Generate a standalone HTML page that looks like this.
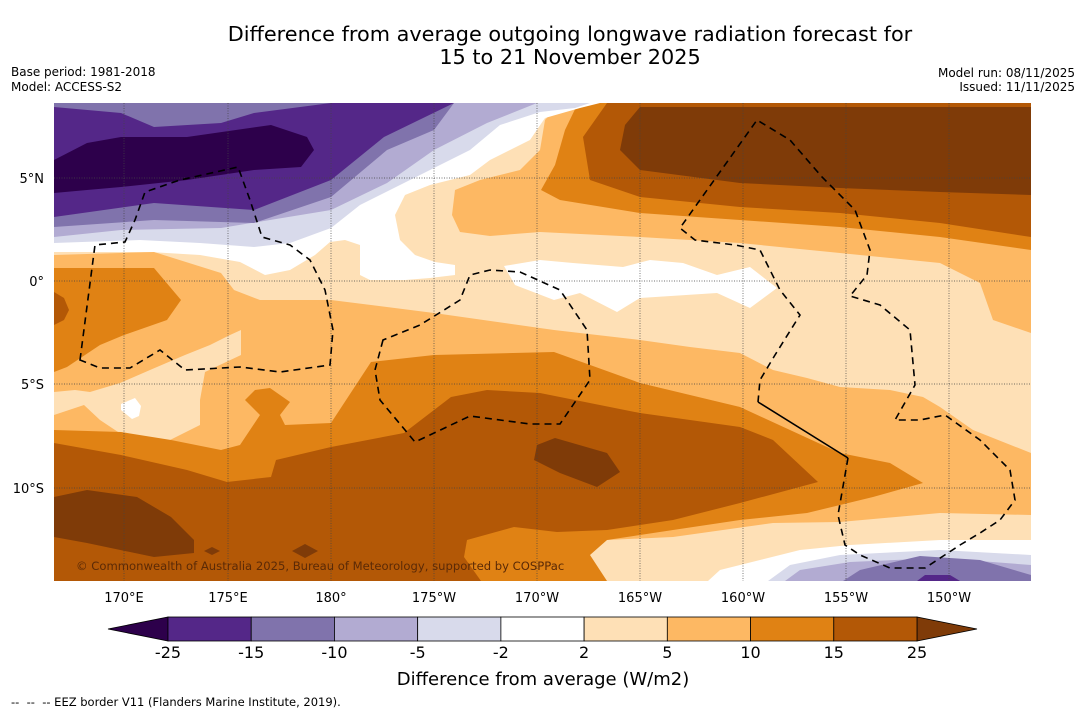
<!DOCTYPE html>
<html><head><meta charset="utf-8"><style>
body{margin:0;background:#fff;width:1085px;height:713px;overflow:hidden;font-family:"DejaVu Sans","Liberation Sans",sans-serif}
svg{position:absolute;left:0;top:0;font-family:"DejaVu Sans","Liberation Sans",sans-serif}
</style></head><body>
<svg width="1085" height="713" viewBox="0 0 1085 713">
<text x="570" y="41" text-anchor="middle" font-size="20.8" fill="#000">Difference from average outgoing longwave radiation forecast for</text>
<text x="570" y="64" text-anchor="middle" font-size="20.8" fill="#000">15 to 21 November 2025</text>
<text x="11" y="76" font-size="12">Base period: 1981-2018</text>
<text x="11" y="91" font-size="12">Model: ACCESS-S2</text>
<text x="1075" y="77" font-size="12" text-anchor="end">Model run: 08/11/2025</text>
<text x="1075" y="91" font-size="12" text-anchor="end">Issued: 11/11/2025</text>
<defs><clipPath id="mc"><rect x="54" y="103" width="977" height="478"/></clipPath></defs>
<g clip-path="url(#mc)">
<rect x="54" y="103" width="977" height="478" fill="#fee0b6"/>
<polygon fill="#fdb863" points="560,103 1031,103 1031,333 993,320 980,283 940,263 840,253 740,243 640,237 540,232 490,236 460,232 452,215 455,190 480,180 520,170 540,150 545,120"/>
<polygon fill="#e08214" points="578,103 1031,103 1031,250 940,237 840,227 740,220 640,213 560,200 541,190 555,165 565,130"/>
<polygon fill="#b35806" points="607,103 1031,103 1031,237 940,223 840,213 740,207 640,197 590,180 583,137"/>
<polygon fill="#7f3b08" points="640,107 1031,107 1031,195 940,192 840,188 740,183 640,170 620,150 625,125"/>
<polygon fill="#ffffff" points="54,103 600,103 580,108 545,118 530,140 490,160 470,175 430,185 405,195 395,215 400,240 415,255 435,262 455,265 455,275 430,278 405,280 370,280 360,275 360,245 345,240 330,242 315,255 290,270 265,275 240,262 200,255 150,252 100,252 54,252"/>
<polygon fill="#d8daeb" points="54,103 590,103 575,108 540,112 500,125 470,150 440,165 400,185 360,205 331,228 290,243 254,247 200,243 140,240 54,243"/>
<polygon fill="#b2abd2" points="54,103 537,103 487,123 434,150 387,183 331,210 221,228 121,230 54,237"/>
<polygon fill="#8073ac" points="54,103 454,103 434,130 387,150 331,197 254,223 154,220 54,227"/>
<polygon fill="#542788" points="54,107 121,113 154,127 221,123 254,113 331,103 454,103 384,137 331,180 254,210 154,203 54,217"/>
<polygon fill="#2d004b" points="54,160 87,143 121,137 187,137 271,125 307,137 314,150 301,167 254,170 187,180 121,187 87,190 54,193"/>
<polygon fill="#ffffff" points="504,266 540,260 573,263 623,267 650,260 683,263 717,275 750,267 777,288 750,308 717,293 640,298 617,312 580,293 554,300 515,285"/>
<polygon fill="#fdb863" points="54,255 154,252 221,273 234,290 260,300 331,300 434,313 554,330 640,340 690,347 740,353 773,370 807,378 840,387 890,390 923,397 940,407 973,430 1031,453 1031,515 940,513 840,522 773,523 673,537 607,540 590,553 54,581"/>
<polygon fill="#fee0b6" points="54,392 75,390 90,392 120,383 150,370 185,355 210,345 230,335 241,330 241,355 205,372 200,400 200,425 170,440 130,440 100,420 84,405 54,415"/>
<polygon fill="#ffffff" points="121,404 135,398 141,406 139,416 132,419 121,410"/>
<polygon fill="#e08214" points="54,268 154,268 181,300 167,320 124,335 100,345 67,367 54,372"/>
<polygon fill="#b35806" points="54,292 64,298 69,310 64,320 54,325"/>
<polygon fill="#e08214" points="54,430 121,432 171,440 221,450 240,445 250,430 260,415 245,400 255,390 270,388 290,402 280,415 285,425 331,423 371,362 434,355 554,352 640,383 740,407 840,453 890,463 923,483 873,497 807,513 740,520 673,530 607,540 590,555 607,581 54,581"/>
<polygon fill="#b35806" points="54,443 121,455 187,470 227,482 271,477 276,460 331,447 404,433 451,397 487,390 540,393 640,413 740,427 773,440 818,482 740,503 673,520 607,530 557,532 514,527 467,540 464,557 481,581 54,581"/>
<polygon fill="#7f3b08" points="54,497 87,490 137,497 171,517 194,540 194,553 154,557 87,543 54,537"/>
<polygon fill="#7f3b08" points="537,445 555,438 607,453 620,472 597,487 560,473 534,460"/>
<polygon fill="#7f3b08" points="212,547 220,551 212,555 204,551"/>
<polygon fill="#7f3b08" points="305,544 318,551 305,558 292,551"/>
<polygon fill="#fee0b6" points="640,581 637,565 660,550 700,540 773,528 840,525 940,517 1031,520 1031,581"/>
<polygon fill="#ffffff" points="708,581 720,570 760,560 800,550 850,545 940,540 1031,540 1031,581"/>
<polygon fill="#d8daeb" points="768,581 790,565 840,555 940,550 1031,555 1031,581"/>
<polygon fill="#b2abd2" points="785,581 800,570 850,562 940,558 1031,565 1031,581"/>
<polygon fill="#8073ac" points="843,581 860,570 920,556 980,560 1031,575 1031,581"/>
<polygon fill="#542788" points="917,581 925,575 950,575 960,581"/>
<g stroke="#444" stroke-width="0.7" stroke-dasharray="1,1.5" fill="none">
<path d="M124 103V581M228 103V581M331 103V581M434 103V581M537 103V581M640 103V581M743 103V581M846 103V581M949 103V581M54 178H1031M54 281H1031M54 384H1031M54 488H1031"/>
</g>
<g stroke="#000" stroke-width="1.6" stroke-dasharray="7,5" fill="none">
<path d="M80,360 L95,245 L125,242 L135,220 L145,192 L180,180 L238,167 L250,200 L262,237 L290,245 L310,260 L325,290 L333,330 L330,365 L280,372 L240,367 L185,370 L160,350 L130,368 L100,368 Z"/>
<path d="M383,340 L375,370 L380,400 L415,442 L470,416 L530,424 L560,424 L590,380 L587,330 L560,290 L520,272 L490,270 L470,275 L460,300 L420,325 Z"/>
<path d="M848,458 L838,515 L845,545 L860,555 L890,568 L925,568 L960,545 L980,533 L1000,520 L1015,500 L1010,470 L980,440 L945,415 L920,420 L895,420 L915,385 L910,330 L880,305 L850,296 L867,275 L870,250 L855,210 L822,177 L790,140 L757,120 L680,228 L695,240 L735,245 L760,250 L780,290 L800,315 L775,355 L760,380 L758,402"/>
</g>
<path d="M758,402 L848,458" stroke="#000" stroke-width="1.6" fill="none"/>
<text x="76" y="570" font-size="11.6" fill="#5b2a06">© Commonwealth of Australia 2025, Bureau of Meteorology, supported by COSPPac</text>
</g>
<g font-size="13" fill="#000">
<text x="44" y="183" text-anchor="end">5°N</text>
<text x="44" y="286" text-anchor="end">0°</text>
<text x="44" y="389" text-anchor="end">5°S</text>
<text x="44" y="493" text-anchor="end">10°S</text>
</g>
<g font-size="13" fill="#000" text-anchor="middle">
<text x="124" y="602">170°E</text><text x="228" y="602">175°E</text><text x="331" y="602">180°</text>
<text x="434" y="602">175°W</text><text x="537" y="602">170°W</text><text x="640" y="602">165°W</text>
<text x="743" y="602">160°W</text><text x="846" y="602">155°W</text><text x="949" y="602">150°W</text>
</g>
<g id="cbar"></g>
<text x="543" y="685" text-anchor="middle" font-size="18">Difference from average (W/m2)</text>
<text x="11" y="706" font-size="11.5" style="white-space:pre" xml:space="preserve">--  --  -- EEZ border V11 (Flanders Marine Institute, 2019).</text>
</svg>
<script>
const levels = [-25, -15, -10, -5, -2, 2, 5, 10, 15, 25];
const boxColors = ["#542788", "#8073ac", "#b2abd2", "#d8daeb", "#ffffff", "#fee0b6", "#fdb863", "#e08214", "#b35806"];
const extendColors = ["#2d004b", "#7f3b08"];
const NS = "http://www.w3.org/2000/svg";
const g = document.getElementById("cbar");
const x0 = 168, x1 = 917, y0 = 617, h = 24, tri = 60;
const bw = (x1 - x0) / (levels.length - 1);
function xPos(i) { return x0 + i * bw; }
function mk(tag, attrs) { const e = document.createElementNS(NS, tag); for (const k in attrs) e.setAttribute(k, attrs[k]); return e; }
const lt = mk("polygon", {points: `${x0},${y0} ${x0},${y0+h} ${x0-tri},${y0+h/2}`, fill: extendColors[0], stroke: "#000", "stroke-width": 0.8});


g.appendChild(lt);
const rt = mk("polygon", {points: `${x1},${y0} ${x1},${y0+h} ${x1+tri},${y0+h/2}`, fill: extendColors[1], stroke: "#000", "stroke-width": 0.8});


g.appendChild(rt);
boxColors.forEach((c, i) => {
  const r = mk("rect", {x: xPos(i), y: y0, width: bw, height: h, fill: c, stroke: "#000", "stroke-width": 0.8});
  
  
  g.appendChild(r);
});
levels.forEach((v, i) => {
  const t = mk("text", {x: xPos(i), y: 658, "text-anchor": "middle", "font-size": 16});
  t.textContent = String(v);
  
  
  g.appendChild(t);
});
</script>
</body></html>
